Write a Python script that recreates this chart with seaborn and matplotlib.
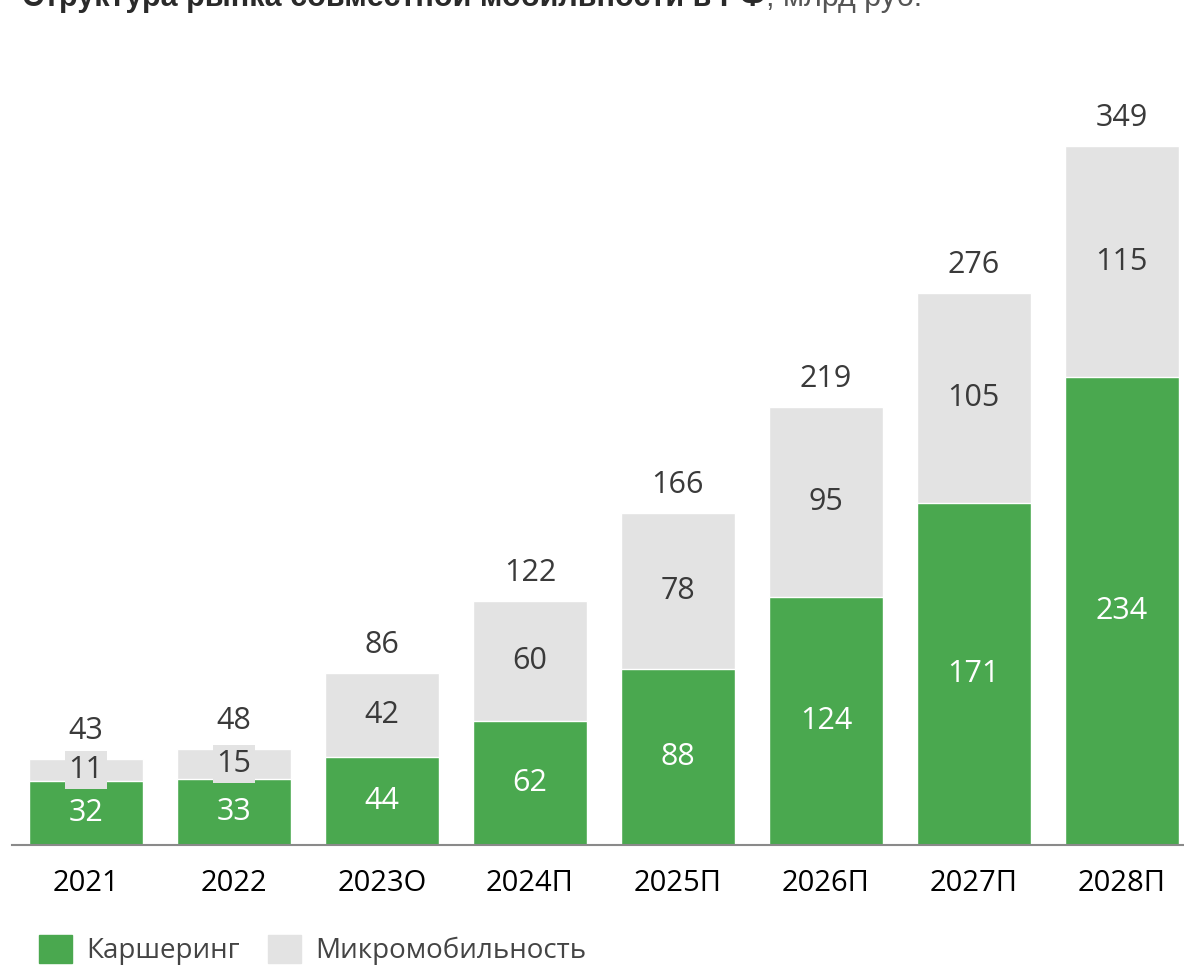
import matplotlib
matplotlib.use('Agg')
import matplotlib.pyplot as plt
import seaborn as sns
import pandas as pd
from matplotlib.patches import Patch

years = ['2021', '2022', '2023О', '2024П', '2025П', '2026П', '2027П', '2028П']
carsharing = [32, 33, 44, 62, 88, 124, 171, 234]
micromob = [11, 15, 42, 60, 78, 95, 105, 115]
totals = [43, 48, 86, 122, 166, 219, 276, 349]

green = '#4aa84f'
grey = '#e3e3e3'
txt = '#3a3a3a'

sns.set_theme(style='white')
plt.rcParams['font.family'] = ['Open Sans', 'DejaVu Sans']

df = pd.DataFrame({'year': years, 'car': carsharing, 'micro': micromob})
df['total'] = df['car'] + df['micro']

fig = plt.figure(figsize=(11.84, 9.69), dpi=100)
ax = fig.add_axes([12 / 1184, 124 / 969, 1 - 12 / 1184, 0.82])

# stacked bars: grey total first, green on top of it
sns.barplot(data=df, x='year', y='total', color=grey, width=0.77, ax=ax, saturation=1)
sns.barplot(data=df, x='year', y='car', color=green, width=0.77, ax=ax, saturation=1)

for i in range(len(years)):
    c = carsharing[i]
    m = micromob[i]
    ax.text(i, c / 2, str(c), ha='center', va='center', fontsize=22, color='white')
    ax.text(i, c + m / 2, str(m), ha='center', va='center', fontsize=22, color=txt,
            bbox=dict(boxstyle='square,pad=0.12', fc=grey, ec='none'))
    ax.text(i, totals[i] + 14, str(totals[i]), ha='center', va='center', fontsize=22, color=txt)

ax.set_xlim(-0.5, 7.42)
ax.set_ylim(0, 397)
ax.set_xlabel('')
ax.set_ylabel('')
ax.set_yticks([])
ax.tick_params(axis='x', labelsize=21, colors='black', length=0, pad=17)
for s in ['top', 'right', 'left']:
    ax.spines[s].set_visible(False)
ax.spines['bottom'].set_color('#8a8a8a')
ax.spines['bottom'].set_linewidth(1.5)

# legend
handles = [Patch(color=green, label='Каршеринг'), Patch(color=grey, label='Микромобильность')]
fig.legend(handles=handles, loc='lower left', bbox_to_anchor=(14 / 1184, -0.022), ncol=2,
           frameon=False, fontsize=20, handlelength=1.2, handleheight=1.2,
           handletextpad=0.5, columnspacing=1.0, labelcolor='#444444')

# title (cut at the top edge as in the source)
t1 = fig.text(22 / 1184, 1 - 6 / 969, 'Структура рынка совместной мобильности в РФ',
              fontsize=22, fontweight='bold', color='#2a2a2a', va='baseline',
              family=['Liberation Sans', 'DejaVu Sans'])
fig.canvas.draw()
bb = t1.get_window_extent()
fig.text(bb.x1 / fig.bbox.width, 1 - 6 / 969, ', млрд руб.', fontsize=22, color='#555555',
         va='baseline', family=['Liberation Sans', 'DejaVu Sans'])

fig.savefig('out.png', dpi=100)
